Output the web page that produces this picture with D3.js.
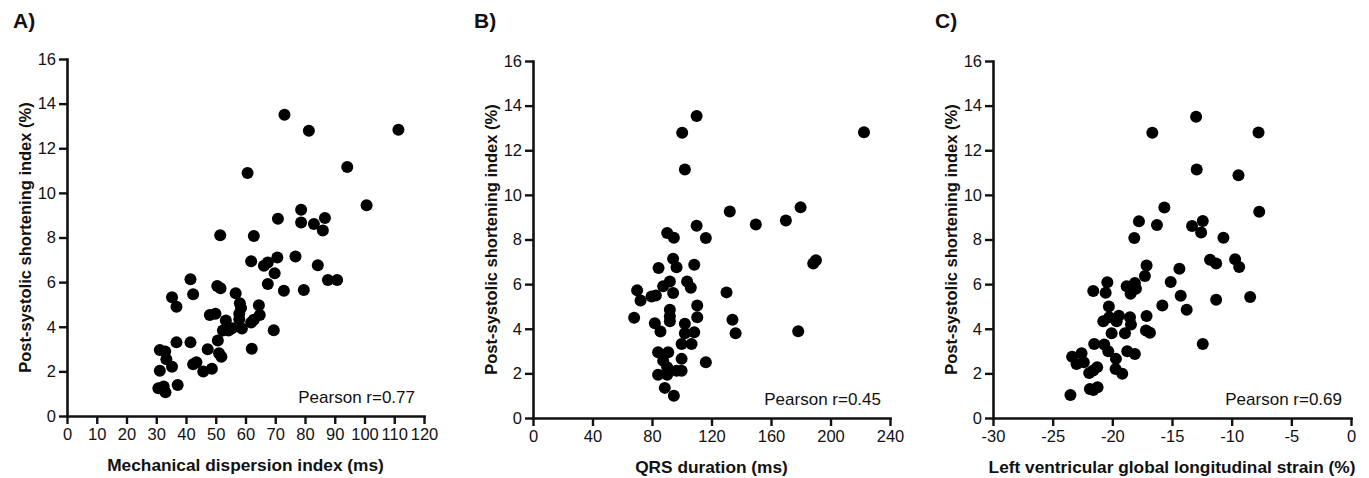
<!DOCTYPE html>
<html>
<head>
<meta charset="utf-8">
<script src="https://cdn.jsdelivr.net/npm/d3@7"></script>
<style>
  body { margin: 0; background: #fff; }
  text { font-family: 'Liberation Sans', Arial, sans-serif; fill: #111; }
</style>
</head>
<body>
<svg id="chart"></svg>
<script>
const width = 1369
const height = 478

// Panel A: mechanical dispersion index (ms) vs PSI (%)
const mdiValues = [73.1, 81.3, 111.4, 60.7, 94.2, 100.7, 78.7, 70.9, 78.7, 83.0, 86.7, 86.0, 51.5, 62.8, 61.9, 70.7, 76.8, 66.2, 67.5, 69.8, 84.3, 87.7, 90.8, 41.5, 50.5, 51.6, 67.5, 72.9, 79.6, 35.3, 42.4, 36.8, 56.7, 58.1, 58.5, 64.5, 48.0, 49.9, 57.9, 57.9, 64.8, 62.8, 53.4, 52.4, 54.3, 55.5, 58.8, 61.9, 69.5, 36.8, 41.5, 50.7, 31.2, 33.0, 33.4, 35.3, 47.3, 62.1, 51.1, 51.9, 42.4, 43.5, 45.8, 48.7, 31.2, 37.2, 30.7, 32.5, 33.1]
const psiA = [13.5, 12.78, 12.83, 10.89, 11.16, 9.45, 9.24, 8.84, 8.67, 8.61, 8.87, 8.31, 8.10, 8.07, 6.94, 7.10, 7.15, 6.73, 6.88, 6.40, 6.76, 6.10, 6.10, 6.13, 5.83, 5.73, 5.92, 5.61, 5.65, 5.32, 5.46, 4.90, 5.50, 5.05, 4.84, 4.96, 4.53, 4.58, 4.58, 4.34, 4.53, 4.31, 4.28, 3.83, 3.83, 3.93, 3.92, 4.19, 3.84, 3.30, 3.30, 3.38, 2.96, 2.89, 2.54, 2.21, 2.99, 3.01, 2.81, 2.66, 2.32, 2.41, 1.99, 2.12, 2.03, 1.39, 1.24, 1.32, 1.06]

// Panel B: QRS duration (ms) vs PSI (%)
const qrsValues = [110.0, 100.3, 102.1, 222.5, 179.9, 132.3, 170.0, 149.8, 110.0, 116.2, 90.2, 94.7, 94.2, 96.5, 84.4, 108.4, 70.0, 72.3, 79.7, 82.6, 87.5, 92.0, 94.2, 103.6, 106.1, 68.0, 92.0, 92.0, 92.0, 110.4, 110.4, 81.9, 85.7, 102.1, 102.1, 108.4, 99.9, 106.6, 84.1, 90.9, 87.5, 90.2, 84.1, 90.2, 96.5, 99.9, 99.9, 116.2, 88.6, 94.7, 130.1, 134.1, 136.2, 178.3, 188.4, 190.2]
const psiB = [13.53, 12.78, 11.14, 12.81, 9.44, 9.26, 8.85, 8.67, 8.62, 8.07, 8.29, 8.08, 7.14, 6.76, 6.72, 6.87, 5.72, 5.27, 5.45, 5.49, 5.90, 6.12, 5.60, 6.12, 5.84, 4.49, 4.85, 4.56, 4.34, 5.04, 4.52, 4.25, 3.88, 4.22, 3.80, 3.84, 3.32, 3.32, 2.95, 2.95, 2.57, 2.27, 1.94, 1.94, 2.12, 2.12, 2.65, 2.50, 1.35, 1.00, 5.63, 4.40, 3.80, 3.89, 6.92, 7.07]

// Panel C: LV global longitudinal strain (%) vs PSI (%)
const glsValues = [-12.98, -16.65, -7.75, -12.93, -9.43, -7.69, -15.64, -17.77, -16.26, -18.16, -13.32, -12.42, -12.56, -10.69, -11.81, -11.30, -9.71, -9.37, -17.13, -17.27, -14.38, -15.11, -14.27, -15.81, -13.77, -11.30, -8.45, -12.42, -21.60, -20.56, -20.42, -18.80, -18.47, -18.11, -18.02, -20.29, -20.76, -20.26, -19.45, -19.64, -18.52, -18.44, -20.06, -18.94, -17.13, -17.18, -16.85, -21.52, -20.68, -20.34, -18.75, -18.11, -19.70, -23.37, -23.00, -22.58, -22.39, -21.94, -21.60, -21.27, -19.73, -19.17, -21.88, -21.60, -21.24, -23.51]
const psiC = [13.50, 12.78, 12.80, 11.14, 10.88, 9.24, 9.43, 8.82, 8.65, 8.07, 8.61, 8.83, 8.31, 8.08, 7.09, 6.92, 7.12, 6.77, 6.84, 6.36, 6.69, 6.09, 5.48, 5.04, 4.85, 5.30, 5.42, 3.32, 5.69, 5.61, 6.08, 5.90, 5.57, 6.05, 5.79, 5.00, 4.34, 4.52, 4.58, 4.34, 4.52, 4.19, 3.80, 3.80, 4.57, 3.92, 3.82, 3.32, 3.29, 2.99, 2.99, 2.87, 2.65, 2.75, 2.42, 2.90, 2.50, 2.02, 2.13, 2.28, 2.20, 1.98, 1.30, 1.26, 1.38, 1.03]

const yTicks = [0, 2, 4, 6, 8, 10, 12, 14, 16]
const xTicksA = [0, 10, 20, 30, 40, 50, 60, 70, 80, 90, 100, 110, 120]
const xTicksB = [0, 40, 80, 120, 160, 200, 240]
const xTicksC = [-30, -25, -20, -15, -10, -5, 0]

const yTitle = 'Post-systolic shortening index (%)'

const panels = [
  { label: 'A)', xs: mdiValues, ys: psiA, ticks: xTicksA, xTitle: 'Mechanical dispersion index (ms)', r: 'Pearson r=0.77', left: 67, right: 424, top: 59, bottom: 416, labelX: 13 },
  { label: 'B)', xs: qrsValues, ys: psiB, ticks: xTicksB, xTitle: 'QRS duration (ms)', r: 'Pearson r=0.45', left: 533, right: 890, top: 61, bottom: 418, labelX: 474 },
  { label: 'C)', xs: glsValues, ys: psiC, ticks: xTicksC, xTitle: 'Left ventricular global longitudinal strain (%)', r: 'Pearson r=0.69', left: 993, right: 1351, top: 61, bottom: 418, labelX: 935 }
]

/**
 * Style an axis group so it looks like the Prism output.
 *
 * @param {object} g - The axis group.
 */
function styleAxis (g) {
  g.select('.domain')
    .attr('stroke', '#111')
    .attr('stroke-width', 2.6)
    .attr('stroke-linecap', 'square')
  g.selectAll('.tick line')
    .attr('stroke', '#111')
    .attr('stroke-width', 2.4)
  g.selectAll('.tick text')
    .attr('font-family', "'Liberation Sans', Arial, sans-serif")
    .attr('font-size', '16.5px')
    .attr('fill', '#222')
}

/**
 * Draw one scatter panel.
 *
 * @param {object} svg - The main SVG container.
 * @param {object} p - The panel description.
 */
function drawPanel (svg, p) {
  const x = d3.scaleLinear()
    .domain(d3.extent(p.ticks))
    .range([p.left, p.right])

  const y = d3.scaleLinear()
    .domain([0, 16])
    .range([p.bottom, p.top])

  const points = p.xs.map((v, i) => ({ x: v, y: p.ys[i] }))

  svg.append('text')
    .attr('x', p.labelX)
    .attr('y', 28)
    .attr('font-size', '21px')
    .attr('font-weight', 'bold')
    .text(p.label)

  svg.append('g')
    .attr('transform', `translate(0, ${p.bottom})`)
    .call(d3.axisBottom(x)
      .tickValues(p.ticks)
      .tickFormat(d => String(d))
      .tickSize(8)
      .tickSizeOuter(0)
      .tickPadding(4))
    .call(styleAxis)

  svg.append('g')
    .attr('transform', `translate(${p.left}, 0)`)
    .call(d3.axisLeft(y)
      .tickValues(yTicks)
      .tickSize(8)
      .tickSizeOuter(0)
      .tickPadding(3))
    .call(styleAxis)

  svg.append('g')
    .selectAll('circle')
    .data(points)
    .enter()
    .append('circle')
    .attr('cx', d => x(d.x))
    .attr('cy', d => y(d.y))
    .attr('r', 6)
    .attr('fill', '#000')

  svg.append('text')
    .attr('x', p.right - 9)
    .attr('y', p.bottom - 13)
    .attr('text-anchor', 'end')
    .attr('font-size', '17px')
    .attr('fill', '#222')
    .text(p.r)

  svg.append('text')
    .attr('x', (p.left + p.right) / 2)
    .attr('y', p.bottom + 55)
    .attr('text-anchor', 'middle')
    .attr('font-size', '17.3px')
    .attr('font-weight', 'bold')
    .text(p.xTitle)

  svg.append('text')
    .attr('transform', `translate(${p.left - 36}, ${(p.top + p.bottom) / 2}) rotate(-90)`)
    .attr('text-anchor', 'middle')
    .attr('font-size', '16.5px')
    .attr('font-weight', 'bold')
    .text(yTitle)
}

const svg = d3.select('#chart')
  .attr('width', width)
  .attr('height', height)

panels.forEach(p => drawPanel(svg, p))
</script>
</body>
</html>
